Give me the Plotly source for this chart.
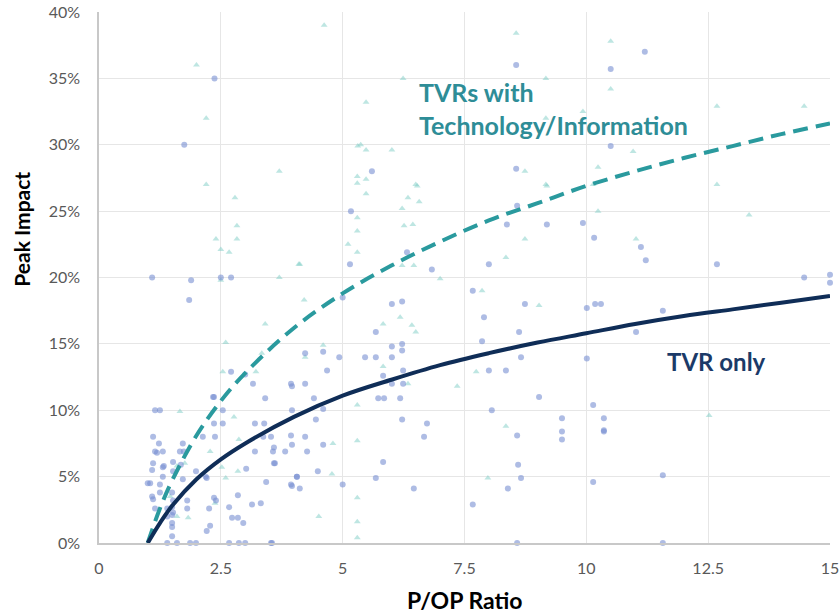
import plotly.graph_objects as go

# P/OP ratio (x) and peak impact in % (y) for "TVR only" observations (circles)
tvr_x = [2.37, 1.75, 8.56, 5.6, 8.56, 11.2, 10.5, 10.5,
         5.17, 8.37, 9.19, 5.15, 8.0, 6.32, 6.83, 7.67, 6.01, 6.22, 8.74, 5.0, 8.58,
         7.9, 5.68, 8.62, 7.86, 6.01, 6.22, 6.22, 4.23, 4.6, 4.93, 5.46, 5.68, 6.01, 8.66, 4.68, 6.24, 8.0, 8.35,
         4.23, 5.83, 6.01, 6.24, 4.41, 5.73, 5.85, 6.18, 9.03,
         3.16, 3.94, 3.96, 3.41, 3.96, 4.6, 4.45, 6.22, 3.2, 3.39, 6.73, 6.67, 3.37, 3.53, 3.94, 4.23,
         3.2, 3.59, 3.57, 3.82, 3.96, 4.27, 4.6, 3.59, 5.83, 4.06, 4.49, 5.68, 3.43, 3.94, 4.12, 5.0, 6.46,
         3.14, 3.32, 3.53,
         8.06, 9.5, 9.5, 9.5, 8.58, 8.6, 8.66, 8.39, 7.67, 8.58,
         9.93, 10.16, 11.12, 11.22, 12.68, 14.47, 15.0, 15.0, 10.01, 10.18, 10.3, 11.57, 11.02, 10.01,
         10.14, 10.36, 10.36, 10.36, 10.14, 11.57, 11.57,
         1.15, 1.25, 2.36, 2.54, 2.54, 2.36, 1.11, 1.23, 2.38, 1.15, 1.19, 1.31, 1.66, 1.72, 1.74,
         1.11, 1.33, 1.52, 1.68, 1.09, 1.31, 1.52, 1.99, 3.02, 1.05, 1.31, 1.25, 1.72, 2.21, 1.0,
         1.09, 1.11, 1.25, 1.5, 1.52, 1.81, 2.36, 2.4, 2.85, 1.15, 1.4, 1.5, 1.52, 1.81, 2.26, 2.67,
         1.4, 1.5, 1.5, 2.73, 2.85, 2.96, 2.28, 2.21, 1.5, 1.5,
         1.4, 1.6, 1.87, 1.99, 2.67, 2.87, 3.0, 3.55,
         1.09, 1.89, 1.85, 2.5, 2.71, 2.71, 2.34, 3.0, 2.13, 3.61, 2.19, 4.06, 3.96]
tvr_y = [35.0, 30.0, 36.0, 28.0, 28.2, 37.0, 35.7, 29.9,
         25.0, 24.0, 24.0, 21.0, 21.0, 21.9, 20.6, 19.0, 18.0, 18.2, 18.0, 18.5, 25.4,
         17.0, 15.9, 15.9, 15.2, 14.8, 15.0, 14.5, 14.3, 14.4, 14.0, 14.0, 14.0, 14.0, 14.0, 13.0, 13.0, 13.0, 13.0,
         12.0, 12.6, 12.0, 12.0, 10.9, 10.9, 10.9, 10.9, 11.0,
         12.0, 12.0, 11.8, 10.9, 10.0, 10.1, 9.3, 9.3, 9.0, 9.0, 9.0, 8.0, 8.0, 8.0, 8.1, 8.0,
         6.9, 7.2, 6.9, 6.9, 7.4, 6.9, 7.4, 6.0, 6.1, 5.0, 5.4, 4.9, 4.6, 4.4, 4.1, 4.4, 4.1,
         2.9, 3.0, 0.0,
         10.0, 9.4, 8.4, 7.8, 8.1, 5.9, 4.9, 4.1, 2.9, 0.0,
         24.1, 23.0, 22.3, 21.3, 21.0, 20.0, 20.2, 19.6, 17.7, 18.0, 18.0, 17.5, 15.9, 13.9,
         10.4, 9.4, 8.5, 8.4, 4.6, 5.1, 0.0,
         10.0, 10.0, 11.0, 10.0, 9.0, 9.0, 8.0, 7.5, 8.0, 6.9, 6.8, 6.9, 6.9, 7.5, 6.9,
         6.0, 5.8, 6.1, 5.9, 5.5, 5.7, 5.4, 5.4, 5.6, 4.5, 5.0, 4.4, 4.8, 4.9, 4.5,
         3.5, 3.3, 3.8, 3.8, 3.2, 3.2, 3.4, 3.2, 3.6, 2.6, 2.6, 2.7, 2.3, 2.6, 2.6, 2.7,
         2.0, 2.1, 1.5, 1.9, 1.9, 1.5, 1.3, 0.9, 1.2, 0.5,
         0.0, 0.0, 0.0, 0.0, 0.0, 0.0, 0.0, 0.0,
         20.0, 19.8, 18.3, 20.0, 20.0, 12.9, 11.0, 12.7, 8.0, 6.0, 5.0, 5.0, 4.3]

# "TVRs with Technology/Information" observations (triangles)
tech_x = [2.0, 2.2, 2.2, 3.7, 2.79, 2.83, 2.83, 2.4, 2.5, 2.67, 2.5, 3.7, 4.1, 3.41, 2.6, 2.54, 3.22, 3.34,
          1.66, 2.77, 2.87, 2.28, 2.52, 2.85, 2.6, 2.38, 1.83, 1.6, 1.76, 1.46, 1.6,
          4.62, 8.56, 9.17, 6.24, 5.48, 5.31, 5.37, 5.48, 6.01, 5.3, 5.48, 5.3, 5.48, 6.5, 8.74, 9.17, 9.17,
          6.53, 6.34, 6.57, 6.22, 6.26, 6.44, 5.3, 5.3, 5.11, 5.3, 6.22, 6.46, 7.0, 7.86, 8.35, 8.74, 9.19, 9.03,
          6.18, 5.83, 6.42, 6.5, 4.21, 4.6, 4.23, 5.83, 6.34, 7.74, 7.35, 4.12,
          5.3, 5.3, 4.8, 4.78, 5.3, 5.3, 5.3, 4.51,
          8.35, 7.98,
          10.5, 10.5, 9.93, 12.68, 14.47, 10.96, 10.24, 10.14, 12.68,
          10.24, 11.02, 13.34, 12.52]
tech_y = [36.0, 32.0, 27.0, 28.0, 26.0, 23.9, 22.9, 22.9, 22.1, 21.9, 19.8, 20.0, 21.0, 16.5, 15.1, 12.9, 12.9, 14.3,
          9.9, 9.5, 7.8, 6.9, 5.7, 5.4, 4.9, 3.0, 1.9, 2.0, 6.0, 3.5, 5.8,
          39.0, 38.4, 35.0, 35.0, 33.2, 29.9, 30.0, 29.6, 29.6, 27.6, 27.4, 27.1, 26.3, 27.0, 28.0, 27.0, 32.0,
          26.9, 26.0, 25.7, 25.2, 23.9, 24.0, 24.5, 23.5, 22.5, 21.9, 20.9, 20.9, 19.9, 19.0, 21.5, 22.9, 26.9, 17.9,
          17.0, 16.5, 16.4, 15.9, 18.3, 14.9, 14.0, 13.3, 12.0, 12.9, 11.8, 21.0,
          10.4, 7.7, 7.5, 5.2, 3.4, 1.6, 0.4, 2.0,
          8.8, 4.9,
          37.8, 34.2, 32.5, 32.9, 32.9, 29.5, 28.3, 27.0, 27.0,
          25.0, 22.9, 24.7, 9.6]

# Trendlines (x, %)
trend_x = [1, 1.25, 1.5, 2, 2.5, 3, 4, 5, 6, 7, 8, 9, 10, 11, 12, 13, 14, 15]
trend_tvr = [0, 1.5, 2.8, 4.8, 6.3, 7.5, 9.5, 11.1, 12.3, 13.4, 14.3, 15.1, 15.8, 16.5, 17.1, 17.6, 18.1, 18.6]
trend_tech = [0, 2.6, 4.7, 8.1, 10.7, 12.8, 16.2, 18.8, 20.9, 22.7, 24.3, 25.6, 26.9, 28.0, 29.0, 29.9, 30.8, 31.6]

x_ticks = [0, 2.5, 5, 7.5, 10, 12.5, 15]
x_tick_labels = ["0", "2.5", "5", "7.5", "10", "12.5", "15"]
y_ticks = [0, 5, 10, 15, 20, 25, 30, 35, 40]
y_tick_labels = ["0%", "5%", "10%", "15%", "20%", "25%", "30%", "35%", "40%"]

fig = go.Figure()
fig.add_trace(go.Scatter(
    x=tech_x, y=tech_y, mode="markers",
    marker=dict(symbol="triangle-up", size=6, color="rgba(125,205,198,0.5)"),
    hoverinfo="x+y", showlegend=False, cliponaxis=False))
fig.add_trace(go.Scatter(
    x=tvr_x, y=tvr_y, mode="markers",
    marker=dict(symbol="circle", size=6, color="rgba(115,140,208,0.58)"),
    hoverinfo="x+y", showlegend=False, cliponaxis=False))
fig.add_trace(go.Scatter(
    x=trend_x, y=trend_tech, mode="lines", line_shape="spline",
    line=dict(color="#2a9a9e", width=4, dash="15px,8px"), showlegend=False))
fig.add_trace(go.Scatter(
    x=trend_x, y=trend_tvr, mode="lines", line_shape="spline",
    line=dict(color="#0f2d57", width=4), showlegend=False))

fig.add_annotation(
    x=6.52, y=35.27, xref="x", yref="y", xanchor="left", yanchor="top", align="left",
    text="TVRs with<br>Technology/Information", showarrow=False,
    font=dict(family="Lato", size=25, color="#2e8d97", weight="bold"))
fig.add_annotation(
    x=11.62, y=14.9, xref="x", yref="y", xanchor="left", yanchor="top", align="left",
    text="TVR only", showarrow=False,
    font=dict(family="Lato", size=24, color="#1b3a68", weight="bold"))
# axis titles
fig.add_annotation(
    x=0, y=0.59, xref="paper", yref="paper", xanchor="center", yanchor="middle",
    xshift=-77, showarrow=False,
    text="<b>Peak Impact</b>", textangle=-90,
    font=dict(family="Lato", size=21, color="#000000"))
fig.add_annotation(
    x=0.5, y=0, xref="paper", yref="paper", xanchor="center", yanchor="middle",
    yshift=-57, showarrow=False,
    text="<b>P/OP Ratio</b>",
    font=dict(family="Lato", size=23, color="#000000"))

fig.update_layout(
    width=839, height=613,
    margin=dict(l=99, r=9, t=12, b=70, autoexpand=False),
    paper_bgcolor="white", plot_bgcolor="white",
    font=dict(family="Lato", color="#595959"),
    xaxis=dict(
        range=[0, 15], tickvals=x_ticks, ticktext=x_tick_labels, automargin=False,
        showgrid=True, gridcolor="#e6e6e6", gridwidth=1, zeroline=False,
        showline=True, linecolor="#c8c8c8", linewidth=1.5, ticklabeloverflow="allow",
        ticks="", tickfont=dict(size=16, color="#595959"), ticklabelstandoff=10),
    yaxis=dict(
        range=[0, 40], tickvals=y_ticks, ticktext=y_tick_labels, automargin=False,
        showgrid=True, gridcolor="#e6e6e6", gridwidth=1, zeroline=False,
        showline=True, linecolor="#c8c8c8", linewidth=1.5, ticklabeloverflow="allow",
        ticks="", tickfont=dict(size=16, color="#595959"), ticklabelstandoff=14),
)

fig.write_html("out.html", config={"displayModeBar": False},
               post_script="document.body.style.margin='0px';document.body.style.overflow='hidden';")
